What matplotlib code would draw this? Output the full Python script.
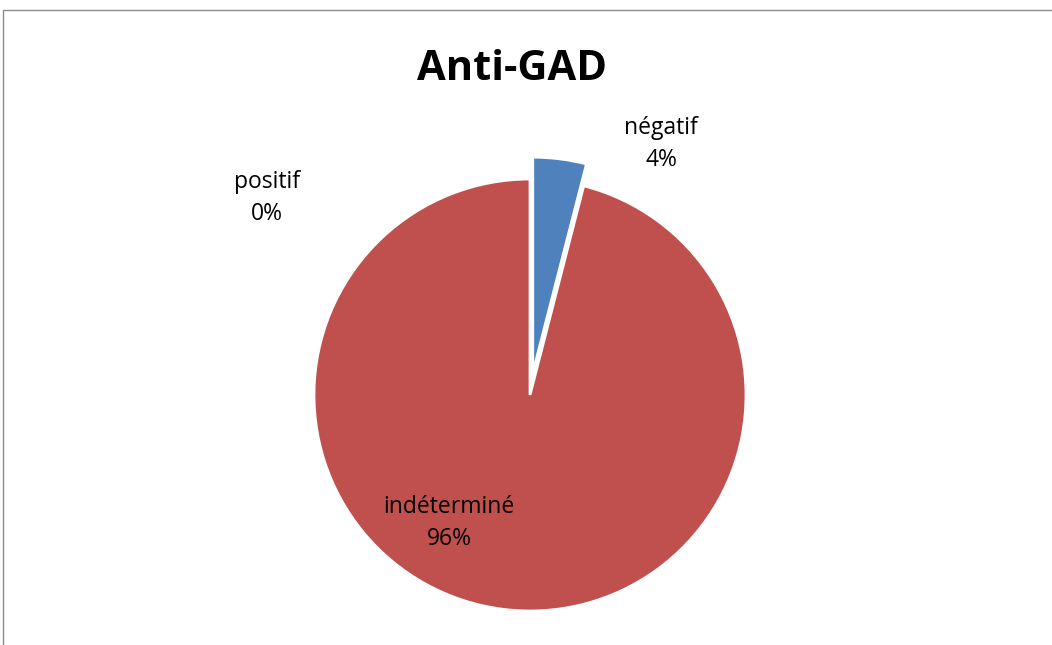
import matplotlib.pyplot as plt
from matplotlib.patches import Rectangle

# Anti-GAD results
categories = ["positif", "négatif", "indéterminé"]
values = [0, 4, 96]
colors = ["#9BBB59", "#4F81BD", "#C0504D"]

W, H = 1052, 645
R = 216  # pie radius in pixels
fig = plt.figure(figsize=(W / 100, H / 100), dpi=100)
ax = fig.add_axes([0, 0, 1, 1])

# explode is in data units here (pixels), pull the small slice out ~22px
ax.pie(values, colors=colors, explode=[0, 22, 0], startangle=90, counterclock=False,
       center=(530, 250), radius=R, frame=True,
       wedgeprops=dict(edgecolor="white", linewidth=2))
ax.set_xlim(0, W)
ax.set_ylim(0, H)
ax.axis("off")

# chart border
fig.patches.append(Rectangle((3 / W, -0.1), 1.2, (H - 10) / H + 0.1,
                             transform=fig.transFigure, fill=False,
                             edgecolor="#8c8c8c", linewidth=1))

ax.text(512, H - 70, "Anti-GAD", ha="center", va="center",
        fontsize=30, fontweight="bold", family="Open Sans")

label_pos = {"positif": (267, H - 198), "négatif": (661, H - 144),
             "indéterminé": (449, H - 523)}
for cat, val in zip(categories, values):
    x, y = label_pos[cat]
    ax.text(x, y, f"{cat}\n{val}%", ha="center", va="center",
            fontsize=16.5, family="Open Sans", linespacing=1.45)

fig.savefig("out.png", dpi=100)
